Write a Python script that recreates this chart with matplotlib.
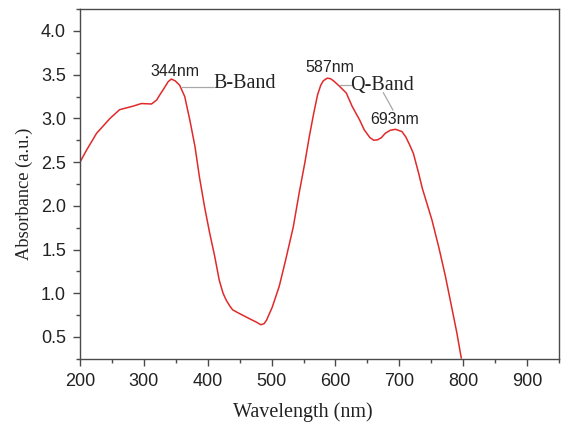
import matplotlib
matplotlib.use('Agg')

import matplotlib.pyplot as plt
from matplotlib.ticker import MultipleLocator

# absorption spectrum
wavelength = [200, 210.5, 226, 247, 262, 283, 296, 312, 320, 325, 333, 338, 343,
              349, 356, 364, 372, 380, 387, 395, 403, 411, 418, 424, 429, 434,
              439, 449, 465, 476, 483, 488, 492, 501, 512, 522, 534, 543, 552, 559,
              566, 572, 577, 581, 587, 592, 597, 606, 617, 626, 638, 645, 654, 660,
              666, 672, 678, 686, 694, 704, 710, 716, 722, 730, 736, 751, 762, 772, 782,
              790, 797]
absorbance = [2.50, 2.64, 2.83, 3.00, 3.10, 3.14, 3.17, 3.165, 3.21, 3.27, 3.36, 3.42, 3.45,
              3.43, 3.38, 3.25, 2.98, 2.68, 2.33, 1.99, 1.69, 1.42, 1.15, 1.00, 0.92, 0.86,
              0.81, 0.77, 0.71, 0.67, 0.64, 0.65, 0.69, 0.84, 1.08, 1.38, 1.76, 2.14, 2.49, 2.79,
              3.06, 3.27, 3.38, 3.43, 3.46, 3.455, 3.43, 3.37, 3.29, 3.14, 2.98, 2.87, 2.78, 2.75,
              2.755, 2.78, 2.83, 2.865, 2.875, 2.85, 2.79, 2.70, 2.60, 2.38, 2.20, 1.84, 1.52, 1.20, 0.84,
              0.55, 0.26]

x_ticks = [200, 300, 400, 500, 600, 700, 800, 900]
y_ticks = [0.5, 1.0, 1.5, 2.0, 2.5, 3.0, 3.5, 4.0]

sans = 'Liberation Sans'
serif = 'Liberation Serif'
spine_col = '#4a4a4a'
note_col = '#a8a8a8'

fig = plt.figure(figsize=(5.61, 4.23), dpi=100)
ax = fig.add_axes([0.1426, 0.1518, 0.8538, 0.8266])

ax.plot(wavelength, absorbance, color='#e02a2a', lw=1.1)

ax.set_xlim(200, 950)
ax.set_ylim(0.25, 4.25)
ax.set_xticks(x_ticks)
ax.set_yticks(y_ticks)
ax.xaxis.set_minor_locator(MultipleLocator(50))
ax.yaxis.set_minor_locator(MultipleLocator(0.25))

for s in ax.spines.values():
    s.set_color(spine_col)
    s.set_linewidth(1.0)
ax.tick_params(which='both', direction='out', color=spine_col, width=1.0,
               top=False, right=False)
ax.tick_params(which='major', length=5, pad=5, labelsize=13)
ax.tick_params(which='minor', length=3)
for lab in ax.get_xticklabels() + ax.get_yticklabels():
    lab.set_fontfamily(sans)
    lab.set_color('#222222')

ax.set_xlabel('Wavelength (nm)', fontfamily=serif, fontsize=14.5, color='#222222')
ax.set_ylabel('Absorbance (a.u.)', fontfamily=serif, fontsize=13.3, color='#222222')
ax.xaxis.set_label_coords(0.4656, -0.124)
ax.yaxis.set_label_coords(-0.098, 0.471)

# peak annotations
ax.text(349, 3.542, '344nm', fontfamily=sans, fontsize=11.5, ha='center', va='center', color='#222222')
ax.text(458, 3.399, 'B-Band', fontfamily=serif, fontsize=14.5, ha='center', va='center', color='#222222')
ax.plot([359, 408], [3.356, 3.356], color=note_col, lw=0.9)

ax.text(591, 3.577, '587nm', fontfamily=sans, fontsize=11.5, ha='center', va='center', color='#222222')
ax.text(673, 3.382, 'Q-Band', fontfamily=serif, fontsize=14.5, ha='center', va='center', color='#222222')
ax.plot([607, 624], [3.382, 3.382], color=note_col, lw=0.9)
ax.plot([675, 690], [3.294, 3.096], color=note_col, lw=0.9)
ax.text(692, 2.993, '693nm', fontfamily=sans, fontsize=11.5, ha='center', va='center', color='#222222')

plt.savefig('out.png', dpi=100)
